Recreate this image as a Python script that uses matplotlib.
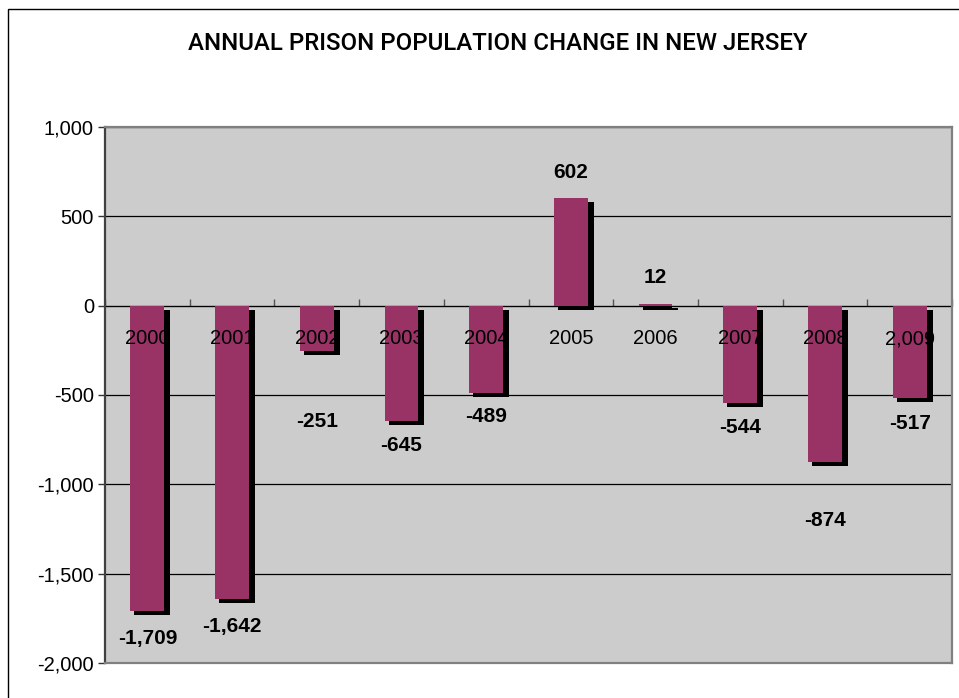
import matplotlib
matplotlib.use('Agg')

import matplotlib.pyplot as plt
from matplotlib.patches import Rectangle

# -----------------------------
# Data
# -----------------------------

years = ['2000', '2001', '2002', '2003', '2004',
         '2005', '2006', '2007', '2008', '2,009']
changes = [-1709, -1642, -251, -645, -489, 602, 12, -544, -874, -517]
value_labels = ['-1,709', '-1,642', '-251', '-645', '-489',
                '602', '12', '-544', '-874', '-517']
# where Excel dropped each data label (value units)
label_y = [-1862, -1794, -650, -785, -622, 746, 157, -684, -1200, -662]

title = 'ANNUAL PRISON POPULATION CHANGE IN NEW JERSEY'

# -----------------------------
# Style
# -----------------------------

W, H = 959, 698
DPI = 100
bar_color = '#993366'
plot_bg = '#cccccc'

plt.rcParams['font.family'] = ['Liberation Sans', 'DejaVu Sans']

fig = plt.figure(figsize=(W / DPI, H / DPI), dpi=DPI)

# outer chart border
fig.patches.append(Rectangle((8 / W, -0.1), 1.2, 1 - 9 / H + 0.1,
                             transform=fig.transFigure, fill=False,
                             edgecolor='black', linewidth=1))

left, right, top, bottom = 105, 952, 127, 663
ax = fig.add_axes([left / W, 1 - bottom / H, (right - left) / W, (bottom - top) / H])
ax.set_facecolor(plot_bg)

ymin, ymax = -2000, 1000
ax.set_ylim(ymin, ymax)
ax.set_xlim(-0.5, len(years) - 0.5)

# gridlines
ax.set_yticks(range(-2000, 1001, 500))
ax.set_yticklabels([f'{v:,}' for v in range(-2000, 1001, 500)], fontsize=14.5)
ax.yaxis.grid(True, color='black', linewidth=0.9)
ax.set_axisbelow(True)
ax.tick_params(axis='y', length=5, width=1, color='#333333', pad=3)
ax.set_xticks([])

for s in ['top', 'right', 'bottom']:
    ax.spines[s].set_color('#808080')
    ax.spines[s].set_linewidth(1.6)
ax.spines['left'].set_color('#404040')
ax.spines['left'].set_linewidth(1.6)

# -----------------------------
# Bars with drop shadow
# -----------------------------

bar_w = 0.40
px_x = (len(years)) / (right - left)
px_y = (ymax - ymin) / (bottom - top)
sh_dx, sh_dy = 6 * px_x, 4 * px_y

xs = list(range(len(years)))
ax.bar(xs, changes, width=bar_w, color=bar_color, zorder=3)

for x, v in zip(xs, changes):
    x0, x1 = x - bar_w / 2, x + bar_w / 2
    b, t = min(0, v), max(0, v)
    # right strip
    ax.add_patch(Rectangle((x1, b - sh_dy), sh_dx, t - b, facecolor='black',
                           edgecolor='none', zorder=5))
    # bottom strip
    ax.add_patch(Rectangle((x0 + 4 * px_x, b - sh_dy), x1 - x0 - 4 * px_x, sh_dy,
                           facecolor='black', edgecolor='none', zorder=5))

# zero axis with category ticks
zero_frac = (0 - ymin) / (ymax - ymin)
sec = ax.secondary_xaxis(zero_frac)
sec.set_xticks([i - 0.5 for i in range(len(years) + 1)])
sec.set_xticklabels([])
sec.tick_params(length=5, width=1, color='#555555', direction='out')
sec.spines['bottom'].set_color('black')
sec.spines['bottom'].set_linewidth(1.2)
sec.spines['bottom'].set_zorder(6)

# category labels sit just under the zero line
for x, lab in zip(xs, years):
    ax.annotate(lab, (x, 0), xytext=(0, -24), textcoords='offset points',
                ha='center', va='center', fontsize=14.5, zorder=4)

# data labels
for x, lab, y in zip(xs, value_labels, label_y):
    ax.text(x, y, lab, ha='center', va='center', fontsize=15,
            fontweight='bold', zorder=7)

# -----------------------------
# Title
# -----------------------------

t = fig.text(498 / W, 1 - 44 / H, title, ha='center', va='center',
             fontsize=18, family=['Roboto', 'DejaVu Sans'], fontweight='medium')
fig.canvas.draw()
tw = t.get_window_extent().width
t.set_fontsize(18 * 620 / tw)

fig.savefig('out.png', dpi=DPI)
plt.close(fig)
